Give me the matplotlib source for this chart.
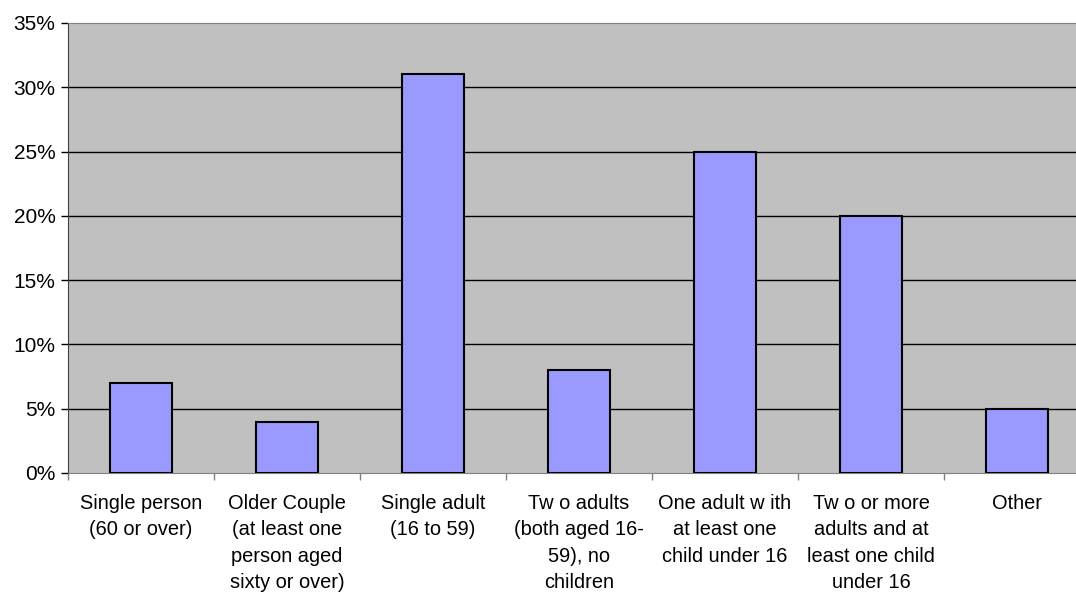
import numpy as np
import matplotlib
matplotlib.use('Agg')
import matplotlib.pyplot as plt
from matplotlib.ticker import FixedLocator, PercentFormatter

plt.rcParams['font.family'] = ['Liberation Sans', 'DejaVu Sans']

categories = [
    'Single person\n(60 or over)',
    'Older Couple\n(at least one\nperson aged\nsixty or over)',
    'Single adult\n(16 to 59)',
    'Tw o adults\n(both aged 16-\n59), no\nchildren',
    'One adult w ith\nat least one\nchild under 16',
    'Tw o or more\nadults and at\nleast one child\nunder 16',
    'Other',
]
shares = [7, 4, 31, 8, 25, 20, 5]
yticks = [0, 5, 10, 15, 20, 25, 30, 35]

# the plot area runs a little past the right edge of the figure
fig = plt.figure(figsize=(10.76, 5.95), dpi=100)
ax = fig.add_axes([68 / 1076, 1 - 473 / 595, 1022 / 1076, (473 - 23) / 595])
ax.set_facecolor('#C0C0C0')

x = np.arange(len(categories))
ax.bar(x, shares, width=0.42, color='#9999FF', edgecolor='black',
       linewidth=1.5, zorder=3)

ax.set_xlim(-0.5, len(categories) - 0.5)
ax.set_ylim(0, 35)
ax.set_yticks(yticks)
ax.yaxis.set_major_formatter(PercentFormatter(decimals=0))
for t in yticks[1:-1]:
    ax.axhline(t, color='black', linewidth=1, zorder=1)

ax.set_xticks(x)
ax.set_xticklabels(categories, linespacing=1.5, va='top')
ax.xaxis.set_minor_locator(FixedLocator(np.arange(len(categories) + 1) - 0.5))
ax.tick_params(axis='x', which='major', length=0, pad=15, labelsize=14.4)
ax.tick_params(axis='x', which='minor', length=5, color='#808080', width=1)
ax.tick_params(axis='y', length=5, width=1, color='black', labelsize=15, pad=4)

ax.spines['left'].set_color('#404040')
ax.spines['bottom'].set_color('#808080')
ax.spines['top'].set_color('#808080')
ax.spines['right'].set_visible(False)

fig.savefig('out.png', dpi=100)
